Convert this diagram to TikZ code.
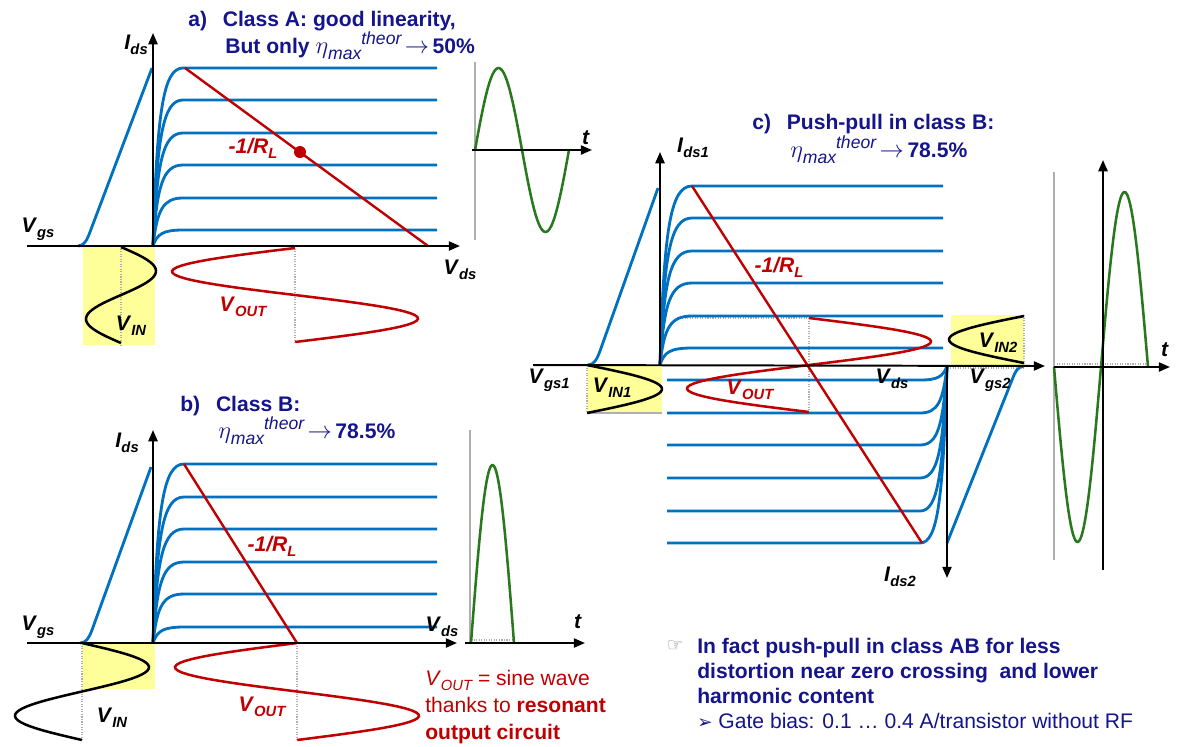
\documentclass[tikz,border=0pt]{standalone}
\usepackage{fontspec}
\setmainfont{Liberation Sans}
\newfontfamily\symfont{DejaVu Sans}
\usepackage{tikz}
\usetikzlibrary{arrows.meta, positioning, calc}
\usepackage{xcolor}
\definecolor{TitleBlue}{RGB}{20,20,140}
\definecolor{CurveBlue}{RGB}{0,112,192}
\definecolor{LoadRed}{RGB}{192,0,0}
\definecolor{WaveGreen}{RGB}{40,120,30}
\definecolor{InYellow}{RGB}{255,255,153}
\definecolor{GuideGray}{RGB}{175,175,175}

\newcommand{\vsub}[2]{\textbf{\textit{#1}}\raisebox{-0.45ex}{\fontsize{10.5}{11}\selectfont\bfseries\itshape #2}}
\newcommand{\effmax}[1]{{\fontsize{19}{19}\selectfont$\eta$}\raisebox{-0.55ex}{\fontsize{12.5}{12}\selectfont\mdseries\itshape max}\raisebox{0.75ex}{\fontsize{12.5}{12}\selectfont\mdseries\itshape theor}\,{\fontsize{16}{16}\selectfont$\rightarrow$}\,\textbf{#1}}

\begin{document}
\begin{tikzpicture}[
  x=0.025cm, y=-0.025cm,
  ax/.style={line width=1.4pt, -{Triangle[length=8pt,width=6.5pt]}},
  chr/.style={CurveBlue, line width=2pt},
  load/.style={LoadRed, line width=1.7pt},
  vin/.style={black, line width=1.8pt},
  vout/.style={LoadRed, line width=1.8pt},
  wave/.style={WaveGreen, line width=1.8pt},
  guide/.style={GuideGray, line width=0.8pt},
  dots/.style={GuideGray, line width=0.8pt, densely dotted},
  lbl/.style={font=\fontsize{15}{18}\selectfont, inner sep=1pt},
  ttl/.style={text=TitleBlue, font=\bfseries\fontsize{15}{18}\selectfont, inner sep=0pt, anchor=base west},
  qdot/.style={circle, fill=LoadRed, inner sep=0pt, minimum size=0.3cm}
]
  \useasboundingbox (0,0) rectangle (1181,746);

  % a) Class A
  \fill[InYellow] (83,246) rectangle (155,345);
  \draw[dots] (121,246) -- (121,345);
  \draw[dots] (295,246) -- (295,343);
  \foreach \yl in {68,100,133,165,198,230}
    \draw[chr] (153,246) .. controls (157,{246-0.75*(246-\yl)}) and (163,\yl) .. (183,\yl) -- (437,\yl);
  \draw[chr] (78,246) .. controls (84,246) and (87,240) .. (90,232) -- (152,68);
  \draw[load] (185,68) -- (428,246);
  \node[qdot] (aQ) at (300,152) {};
  \draw[vin] plot[domain=0:1, samples=50] ({121+35*sin(360*\x)}, {247+96*\x});
  \draw[vout] plot[domain=0:1, samples=50] ({295-123*sin(360*\x)}, {248+94*\x});
  \coordinate (aO) at (153,246);
  \coordinate (aL) at (27,246);
  \coordinate (aR) at (460,246);
  \coordinate (aUp) at (153,33);
  \draw[ax] (aL) -- (aR);
  \draw[ax] (aO) -- (aUp);
  \node[lbl] (aIds) at (136,45) {\vsub{I}{ds}};
  \node[lbl] (aVgs) at (38,229) {\vsub{V}{gs}};
  \node[lbl] (aVds) at (460,270) {\vsub{V}{ds}};
  \node[lbl, text=LoadRed] (aRL) at (253,148) {\vsub{-1/R}{L}};
  \node[lbl] (aVin) at (131,326) {\vsub{V}{IN}};
  \node[lbl, text=LoadRed] (aVout) at (243,307) {\vsub{V}{OUT}};
  \node[ttl] (aTitle) at (188,26) {a)\hspace{0.75em}Class A: good linearity,};
  \node[ttl] (aEff) at (225,53) {But only \effmax{50\%}};
  % time trace a
  \coordinate (aW0) at (472,150);
  \coordinate (aW1) at (592,150);
  \draw[guide] (475,62) -- (475,240);
  \draw[wave] plot[domain=0:1, samples=60] ({475+94*\x}, {150-82*sin(360*\x)});
  \draw[ax] (aW0) -- (aW1);
  \node[lbl] (aTime) at (586,138) {\textbf{\textit{t}}};

  % b) Class B
  \fill[InYellow] (82,643) rectangle (155,689);
  \draw[dots] (82,643) -- (82,740);
  \draw[dots] (297,643) -- (297,740);
  \foreach \yl in {464,497,529,562,594,627}
    \draw[chr] (153,643) .. controls (157,{643-0.75*(643-\yl)}) and (163,\yl) .. (184,\yl) -- (437,\yl);
  \draw[chr] (80,643) .. controls (86,643) and (89,638) .. (92,630) -- (151,467);
  \draw[load] (184,464) -- (297,643);
  \draw[vin] plot[domain=0:1, samples=50] ({82+67*sin(360*\x)}, {643+97*\x});
  \draw[vout] plot[domain=0:1, samples=50] ({297-122*sin(360*\x)}, {643+97*\x});
  \coordinate (bO) at (153,643);
  \coordinate (bL) at (27,643);
  \coordinate (bR) at (457,643);
  \coordinate (bUp) at (153,430);
  \draw[ax] (bL) -- (bR);
  \draw[ax] (bO) -- (bUp);
  \node[lbl] (bIds) at (127,443) {\vsub{I}{ds}};
  \node[lbl] (bVgs) at (38,627) {\vsub{V}{gs}};
  \node[lbl] (bVds) at (442,627) {\vsub{V}{ds}};
  \node[lbl, text=LoadRed] (bRL) at (272,546) {\vsub{-1/R}{L}};
  \node[lbl] (bVin) at (112,718) {\vsub{V}{IN}};
  \node[lbl, text=LoadRed] (bVout) at (262,707) {\vsub{V}{OUT}};
  \node[ttl] (bTitle) at (180,411) {b)\hspace{0.75em}Class B:};
  \node[ttl] (bEff) at (218,438) {\effmax{78.5\%}};
  % time trace b
  \coordinate (bW0) at (465,643);
  \coordinate (bW1) at (585,643);
  \draw[guide] (470,430) -- (470,643);
  \draw[dots] (471,640) -- (514,640);
  \draw[wave] plot[domain=0:1, samples=40] ({471+43*\x}, {643-178*sin(180*\x)});
  \draw[ax] (bW0) -- (bW1);
  \node[lbl] (bTime) at (578,622) {\textbf{\textit{t}}};
  \node[lbl, text=LoadRed, anchor=base west, inner sep=0pt] (bNote1) at (425,685)
    {\textit{V}\raisebox{-0.45ex}{\fontsize{10.5}{11}\selectfont\itshape OUT} = sine wave};
  \node[lbl, text=LoadRed, anchor=base west, inner sep=0pt] (bNote2) at (425,712) {thanks to \textbf{resonant}};
  \node[lbl, text=LoadRed, anchor=base west, inner sep=0pt] (bNote3) at (425,739) {\textbf{output circuit}};

  % c) Push-pull
  \fill[InYellow] (587,365) rectangle (662,413);
  \fill[InYellow] (951,315) rectangle (1024,365);
  \draw[guide] (587,413) -- (662,413);
  \draw[dots] (587,365) -- (587,413);
  \draw[dots] (1024,315) -- (1024,365);
  \draw[dots] (950,368) -- (1024,368);
  \draw[dots] (677,318) -- (809,318);
  \draw[dots] (809,318) -- (809,412);
  \foreach \yl in {186,218,251,283,316,348}
    \draw[chr] (660,365) .. controls (664,{365-0.75*(365-\yl)}) and (670,\yl) .. (692,\yl) -- (943,\yl);
  \foreach \yl in {380,413,445,478,511,543}
    \draw[chr] (667,\yl) -- (920,\yl) .. controls (938,\yl) and (943,{366+0.75*(\yl-366)}) .. (947,366);
  \draw[chr] (588,365) .. controls (594,365) and (597,359) .. (600,351) -- (658,188);
  \draw[chr] (1024,366) .. controls (1018,366) and (1015,372) .. (1012,380) -- (947,543);
  \draw[load] (692,186) -- (922,543);
  \draw[vin] plot[domain=0:1, samples=30] ({587+75*sin(180*\x)}, {365+48*\x});
  \draw[vin] plot[domain=0:1, samples=30] ({1024-75*sin(180*\x)}, {316+47*\x});
  \draw[vout] plot[domain=0:1, samples=50] ({809+122*sin(360*\x)}, {318+94*\x});
  \coordinate (cL) at (533,365);
  \coordinate (cR) at (1045,366);
  \coordinate (cO1) at (660,365);
  \coordinate (cUp) at (660,152);
  \coordinate (cO2) at (947,366);
  \coordinate (cDown) at (947,578);
  \draw[ax] (cL) -- (cR);
  \draw[ax] (cO1) -- (cUp);
  \draw[ax] (cO2) -- (cDown);
  \node[lbl] (cIds1) at (693,148) {\vsub{I}{ds1}};
  \node[lbl] (cVgs1) at (549,380) {\vsub{V}{gs1}};
  \node[lbl] (cVin1) at (612,388) {\vsub{V}{IN1}};
  \node[lbl, text=LoadRed] (cVout) at (750,390) {\vsub{V}{OUT}};
  \node[lbl, text=LoadRed] (cRL) at (779,267) {\vsub{-1/R}{L}};
  \node[lbl] (cVds) at (892,379) {\vsub{V}{ds}};
  \node[lbl] (cVin2) at (998,343) {\vsub{V}{IN2}};
  \node[lbl] (cVgs2) at (990,380) {\vsub{V}{gs2}};
  \node[lbl] (cIds2) at (900,577) {\vsub{I}{ds2}};
  \node[ttl] (cTitle) at (752,129) {c)\hspace{0.75em}Push-pull in class B:};
  \node[ttl] (cEff) at (790,157) {\effmax{78.5\%}};
  % time trace c
  \coordinate (cW0) at (1054,367);
  \coordinate (cW1) at (1170,367);
  \coordinate (cWlo) at (1103,570);
  \coordinate (cWup) at (1103,160);
  \draw[guide] (1054,172) -- (1054,560);
  \draw[dots] (1054,364) -- (1148,364);
  \draw[wave] plot[domain=0:1, samples=80] ({1054+94*\x}, {367+175*sin(360*\x)});
  \draw[ax] (cW0) -- (cW1);
  \draw[ax] (cWlo) -- (cWup);
  \node[lbl] (cTime) at (1165,350) {\textbf{\textit{t}}};

  % remark
  \node[text=gray, font=\symfont\fontsize{13}{13}\selectfont, inner sep=0pt] (hand) at (675,646) {☞};
  \node[ttl] (note1) at (697,653) {In fact push-pull in class AB for less};
  \node[ttl] (note2) at (697,678) {distortion near zero crossing\ \ and lower};
  \node[ttl] (note3) at (697,703) {harmonic content};
  \node[ttl, font=\fontsize{15}{18}\selectfont] (note4) at (697,728) {{\symfont\fontsize{13}{13}\selectfont ➢}\ Gate bias: 0.1 … 0.4 A/transistor without RF};
\end{tikzpicture}
\end{document}
